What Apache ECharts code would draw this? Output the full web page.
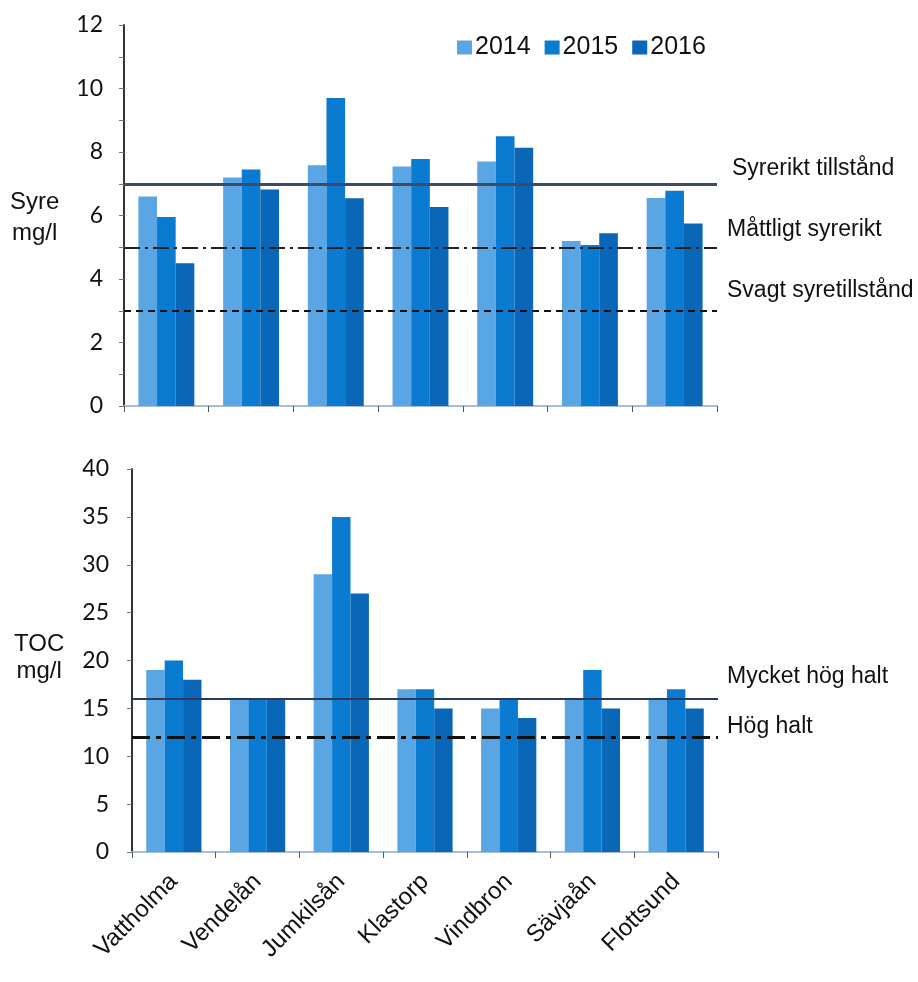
<!DOCTYPE html>
<html>
<head>
<meta charset="utf-8">
<script src="https://cdn.jsdelivr.net/npm/echarts@6/dist/echarts.min.js"></script>
<style>
  html, body { margin: 0; padding: 0; background: #fff; }
  #chart { width: 918px; height: 982px; }
</style>
</head>
<body>
<div id="chart"></div>
<script>
// Sampling stations along the river
const stations = ['Vattholma', 'Vendelån', 'Jumkilsån', 'Klastorp', 'Vindbron', 'Sävjaån', 'Flottsund'];
const years = ['2014', '2015', '2016'];

// Dissolved oxygen, mg/l
const syre2014 = [6.6, 7.2, 7.58, 7.54, 7.7, 5.2, 6.55];
const syre2015 = [5.95, 7.45, 9.7, 7.78, 8.5, 5.07, 6.78];
const syre2016 = [4.5, 6.82, 6.54, 6.27, 8.13, 5.44, 5.75];

// Total organic carbon, mg/l
const toc2014 = [19, 16, 29, 17, 15, 16, 16];
const toc2015 = [20, 16, 35, 17, 16, 19, 17];
const toc2016 = [18, 16, 27, 15, 14, 15, 15];

// Class boundaries
const syreLimits = [7, 5, 3];
const tocLimits = [16, 12];
const syreClassNames = ['Syrerikt tillstånd', 'Måttligt syrerikt', 'Svagt syretillstånd'];
const tocClassNames = ['Mycket hög halt', 'Hög halt'];

const colors = ['#5aa6e4', '#0a7bd1', '#0a66b6'];
const textFont = '"Liberation Sans", Arial, sans-serif';
const tickFont = 'Lato, "Liberation Sans", sans-serif';

const chart = echarts.init(document.getElementById('chart'), null, { renderer: 'canvas' });

function limitLine(value, type, width, color) {
  return {
    yAxis: value,
    lineStyle: { type: type, width: width, color: color }
  };
}

const syreLines = {
  silent: true,
  symbol: 'none',
  label: { show: false },
  data: [
    limitLine(syreLimits[0], 'solid', 3, '#3e4a66'),
    limitLine(syreLimits[1], [16, 5, 3, 5], 2, '#222'),
    limitLine(syreLimits[2], [7, 5], 2, '#111')
  ]
};

const tocLines = {
  silent: true,
  symbol: 'none',
  label: { show: false },
  data: [
    limitLine(tocLimits[0], 'solid', 2, '#2c3a5a'),
    limitLine(tocLimits[1], [18, 6, 5, 6], 3, '#111')
  ]
};

const syreSeries = [syre2014, syre2015, syre2016];
const tocSeries = [toc2014, toc2015, toc2016];

const series = [];
years.forEach((y, i) => {
  series.push({
    name: y, type: 'bar', xAxisIndex: 0, yAxisIndex: 0,
    data: syreSeries[i], barGap: '0%', barCategoryGap: '34%',
    itemStyle: { color: colors[i] },
    markLine: i === 0 ? syreLines : undefined
  });
});
years.forEach((y, i) => {
  series.push({
    name: y, type: 'bar', xAxisIndex: 1, yAxisIndex: 1,
    data: tocSeries[i], barGap: '0%', barCategoryGap: '34%',
    itemStyle: { color: colors[i] },
    markLine: i === 0 ? tocLines : undefined
  });
});

const sideText = (x, y, text, size) => ({
  type: 'text', left: x, top: y,
  style: { text: text, font: size + 'px ' + textFont, fill: '#111', textVerticalAlign: 'middle' }
});

const option = {
  animation: false,
  backgroundColor: '#fff',
  color: colors,
  legend: {
    data: years,
    left: 452, top: 30,
    icon: 'rect',
    itemWidth: 15, itemHeight: 14, itemGap: 14,
    textStyle: { fontFamily: textFont, fontSize: 25, color: '#111', padding: [0, 0, 0, -2] }
  },
  grid: [
    { left: 124, top: 25, width: 593, height: 381 },
    { left: 132, top: 469, width: 586, height: 383 }
  ],
  xAxis: [
    {
      type: 'category', gridIndex: 0, data: stations,
      axisLine: { lineStyle: { color: '#a9bcd8', width: 2 } },
      axisTick: { show: true, length: 6, lineStyle: { color: '#555' } },
      axisLabel: { show: false }
    },
    {
      type: 'category', gridIndex: 1, data: stations,
      axisLine: { lineStyle: { color: '#a9bcd8', width: 2 } },
      axisTick: { show: true, length: 6, lineStyle: { color: '#555' } },
      axisLabel: {
        rotate: 45, margin: 26, interval: 0,
        fontFamily: textFont, fontSize: 24, color: '#111'
      }
    }
  ],
  yAxis: [
    {
      type: 'value', gridIndex: 0, min: 0, max: 12, interval: 2,
      axisLine: { show: true, lineStyle: { color: '#333', width: 2 } },
      axisTick: { show: true, length: 5, lineStyle: { color: '#777' } },
      minorTick: { show: true, splitNumber: 2, length: 5, lineStyle: { color: '#777' } },
      splitLine: { show: false },
      axisLabel: { fontFamily: tickFont, fontSize: 23, color: '#111', margin: 21 }
    },
    {
      type: 'value', gridIndex: 1, min: 0, max: 40, interval: 5,
      axisLine: { show: true, lineStyle: { color: '#333', width: 2 } },
      axisTick: { show: true, length: 5, lineStyle: { color: '#777' } },
      splitLine: { show: false },
      axisLabel: { fontFamily: tickFont, fontSize: 23, color: '#111', margin: 23 }
    }
  ],
  graphic: [
    { type: 'text', left: 10, top: 187,
      style: { text: 'Syre\nmg/l', font: '24px ' + textFont, fill: '#111', textAlign: 'center', lineHeight: 31 } },
    { type: 'text', left: 14, top: 631,
      style: { text: 'TOC\nmg/l', font: '24px ' + textFont, fill: '#111', textAlign: 'center', lineHeight: 27 } },
    sideText(732, 157, syreClassNames[0], 23),
    sideText(727, 218, syreClassNames[1], 23),
    sideText(727, 279, syreClassNames[2], 23),
    sideText(727, 665, tocClassNames[0], 23),
    sideText(727, 715, tocClassNames[1], 23)
  ],
  series: series
};

chart.setOption(option);
</script>
</body>
</html>
